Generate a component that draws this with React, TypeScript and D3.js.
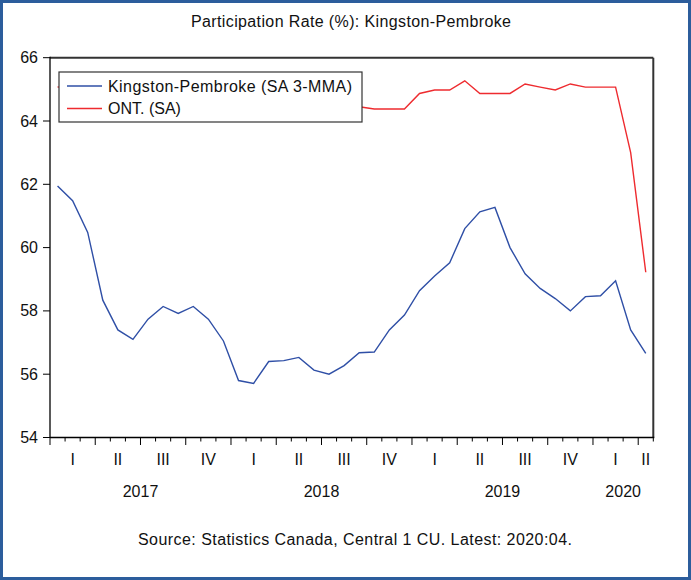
import React from 'react';
import * as d3 from 'd3';

// monthly values, Jan 2017 .. Apr 2020
const kingston = [
  61.95, 61.48, 60.48, 58.34, 57.4, 57.1, 57.74, 58.14, 57.92, 58.14, 57.74, 57.05,
  55.8, 55.71, 56.4, 56.43, 56.53, 56.13, 56.0, 56.27, 56.68, 56.7, 57.4, 57.87,
  58.64, 59.1, 59.52, 60.6, 61.13, 61.27, 60.0, 59.17, 58.71, 58.39, 58.0, 58.45,
  58.48, 58.95, 57.4, 56.66,
];
const ontario = [
  65.08, 65.0, 64.9, 65.0, 64.8, 64.8, 64.7, 64.8, 64.7, 64.6, 64.7, 64.6,
  64.5, 64.6, 64.5, 64.6, 64.5, 64.6, 64.5, 64.5, 64.45, 64.38, 64.38, 64.38,
  64.87, 64.98, 64.98, 65.27, 64.87, 64.87, 64.87, 65.17, 65.07, 64.98, 65.17, 65.07,
  65.07, 65.07, 63.0, 59.22,
];
const yTicks = [54, 56, 58, 60, 62, 64, 66];
const quarterNames = ['I', 'II', 'III', 'IV'];
const years = ['2017', '2018', '2019', '2020'];
const seriesNames = ['Kingston-Pembroke (SA 3-MMA)', 'ONT. (SA)'];
const seriesColors = ['#2f4fa6', '#ee2b2f'];

const W = 691;
const H = 580;
const font = '"Liberation Sans", Arial, sans-serif';

const App = () => {
  const nMonths = kingston.length;
  const x = d3.scaleLinear().domain([0, nMonths]).range([50, 653.3]);
  const y = d3.scaleLinear().domain([54, 66]).range([437.5, 57.7]);

  const line = d3
    .line<number>()
    .x((d, i) => x(i + 0.5))
    .y((d) => y(d));

  const monthTicks = d3.range(0, nMonths + 1);
  const quarters = d3.range(0, Math.ceil(nMonths / 3)).map((q) => ({
    label: quarterNames[q % 4],
    from: q * 3,
    to: Math.min(q * 3 + 3, nMonths),
  }));
  const yearSpans = years.map((yr, i) => ({
    label: yr,
    from: i * 12,
    to: Math.min(i * 12 + 12, nMonths),
  }));

  const [x0, x1] = x.range();
  const [yb, yt] = y.range();

  return (
    <svg width={W} height={H} style={{ display: 'block', position: 'absolute', left: 0, top: 0 }}>
      <rect x={0} y={0} width={W} height={H} fill="#fff" />
      <rect x={1.5} y={1.5} width={W - 3} height={H - 3} fill="none" stroke="#2c5d9c" strokeWidth={3} />

      <text x={351} y={27} textAnchor="middle" fontFamily={font} fontSize={16} fill="#111"
        textLength={320} lengthAdjust="spacing">
        Participation Rate (%): Kingston-Pembroke
      </text>

      {/* frame */}
      <line x1={x0} x2={x1} y1={yt} y2={yt} stroke="#333" strokeWidth={2} />
      <line x1={x1} x2={x1} y1={yt} y2={yb} stroke="#333" strokeWidth={2} />
      <line x1={x0} x2={x0} y1={yt - 1} y2={yb} stroke="#000" strokeWidth={1.3} />
      <line x1={x0} x2={x1 + 1} y1={yb} y2={yb} stroke="#000" strokeWidth={1.3} />

      {yTicks.map((t) => (
        <g key={t}>
          <line x1={x0 - 7} x2={x0} y1={y(t)} y2={y(t)} stroke="#000" strokeWidth={1} />
          <text x={38} y={y(t) + 5.5} textAnchor="end" fontFamily={font} fontSize={16} fill="#111">
            {t}
          </text>
        </g>
      ))}

      {monthTicks.map((m) => (
        <line
          key={m}
          x1={x(m)}
          x2={x(m)}
          y1={yb}
          y2={yb + (m % 3 === 0 ? 7.5 : 4)}
          stroke="#000"
          strokeWidth={1}
        />
      ))}

      {quarters.map((q, i) => (
        <text
          key={i}
          x={(x(q.from) + x(q.to)) / 2}
          y={465}
          textAnchor="middle"
          fontFamily={font}
          fontSize={16}
          fill="#111"
        >
          {q.label}
        </text>
      ))}

      {yearSpans.map((s) => (
        <text
          key={s.label}
          x={(x(s.from) + x(s.to)) / 2}
          y={497}
          textAnchor="middle"
          fontFamily={font}
          fontSize={16}
          fill="#111"
        >
          {s.label}
        </text>
      ))}

      <path d={line(ontario) ?? ''} fill="none" stroke={seriesColors[1]} strokeWidth={1.4} />
      <path d={line(kingston) ?? ''} fill="none" stroke={seriesColors[0]} strokeWidth={1.4} />

      {/* legend */}
      <rect x={59} y={72} width={303} height={50} fill="#fff" stroke="#333" strokeWidth={1.2} />
      {seriesNames.map((name, i) => (
        <g key={name}>
          <line
            x1={67}
            x2={102}
            y1={86 + i * 22.5}
            y2={86 + i * 22.5}
            stroke={seriesColors[i]}
            strokeWidth={1.4}
          />
          <text x={108} y={91.5 + i * 22.5} fontFamily={font} fontSize={16} fill="#111"
            textLength={i === 0 ? 244 : undefined} lengthAdjust="spacing">
            {name}
          </text>
        </g>
      ))}

      <text x={355} y={545} textAnchor="middle" fontFamily={font} fontSize={16} fill="#111"
        textLength={434} lengthAdjust="spacing">
        Source: Statistics Canada, Central 1 CU. Latest: 2020:04.
      </text>
    </svg>
  );
};

export default App;
